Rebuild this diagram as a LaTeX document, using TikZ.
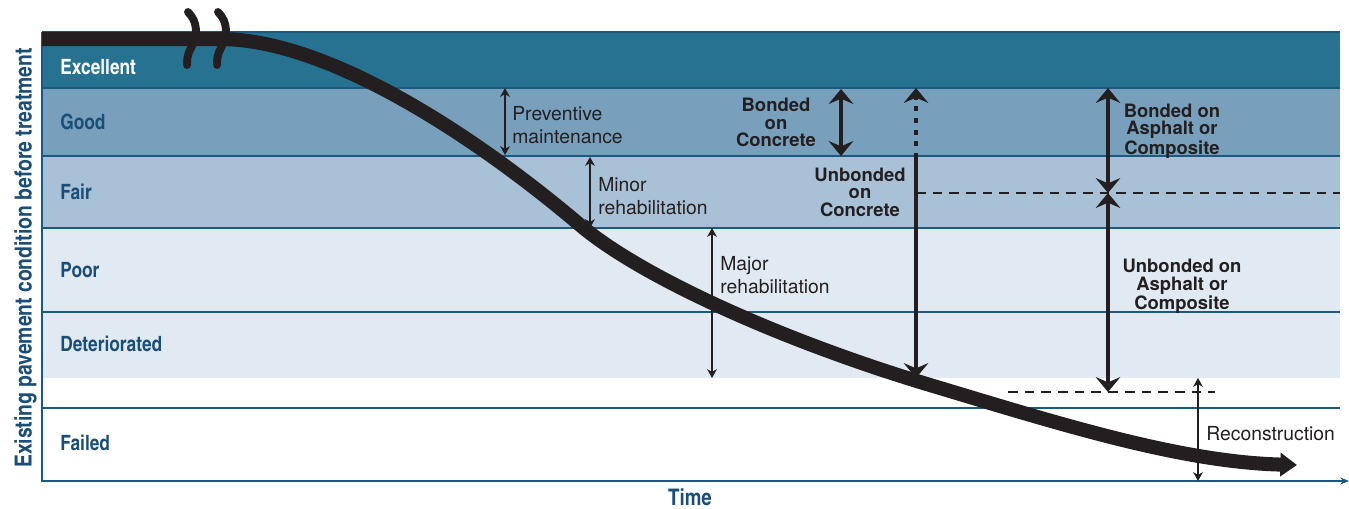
\documentclass[tikz,border=0pt]{standalone}
\usepackage{fontspec}
\setmainfont{TeX Gyre Heros}
\newfontfamily\condfont{texgyreheroscn}[Extension=.otf,UprightFont=*-regular,BoldFont=*-bold]
\usetikzlibrary{arrows.meta}

\definecolor{excband}{HTML}{277191}
\definecolor{goodband}{HTML}{78A0BD}
\definecolor{fairband}{HTML}{A9C1D6}
\definecolor{poorband}{HTML}{E1EAF2}
\definecolor{bandedge}{HTML}{1A5A80}
\definecolor{lvlblue}{HTML}{1B4E76}
\definecolor{ink}{HTML}{231F20}

\tikzset{
  bandline/.style={draw=bandedge,line width=0.6pt},
  level/.style={anchor=base west,inner sep=0pt,text=lvlblue,font=\condfont\bfseries\fontsize{12}{14}\selectfont},
  note/.style={anchor=west,inner sep=0pt,align=left,text=ink,font=\fontsize{11}{13}\selectfont},
  treat/.style={inner sep=0pt,align=center,text=ink,font=\bfseries\fontsize{10.5}{10}\selectfont},
  thinarr/.style={<->,>={Stealth[length=5pt,width=5.5pt,inset=1.5pt]},line width=0.85pt,draw=ink},
  thickarr/.style={>={Stealth[length=8.5pt,width=14pt,inset=3pt]},line width=2.8pt,draw=ink},
  guide/.style={dash pattern=on 5.5pt off 4pt,line width=0.9pt,draw=ink},
}

\begin{document}
\begin{tikzpicture}[x=0.02cm,y=-0.02cm]
\useasboundingbox (0,0) rectangle (1349,508);

% condition bands
\fill[excband] (42,32) rectangle (1340,88);
\fill[goodband] (42,88) rectangle (1340,156);
\fill[fairband] (42,156) rectangle (1340,228);
\fill[poorband] (42,228) rectangle (1340,378);
\foreach \y in {32,88,156,228,312,408}
  \draw[bandline] (42,\y) -- (1340,\y);

\node[level,text=white] (excellent) at (60,74) {Excellent};
\node[level] (good) at (60,129) {Good};
\node[level] (fair) at (60,199) {Fair};
\node[level] (poor) at (60,277) {Poor};
\node[level] (deter) at (60,351) {Deteriorated};
\node[level] (failed) at (60,450) {Failed};

% axes
\coordinate (ytop) at (42,32);
\coordinate (origin) at (42,481);
\coordinate (xend) at (1349,481);
\draw[draw=bandedge,line width=0.9pt,-{Stealth[length=5pt,width=4pt]}] (ytop) -- (origin) -- (xend);
\node[rotate=90,anchor=base,inner sep=0pt,text=lvlblue,font=\condfont\bfseries\fontsize{13.4}{15}\selectfont] (ylabel) at (31.5,258) {Existing pavement condition before treatment};
\node[anchor=base,inner sep=0pt,text=lvlblue,font=\condfont\bfseries\fontsize{13}{15}\selectfont] (xlabel) at (690,505) {Time};

% deterioration curve
\draw[ink,line width=8pt,-{Triangle[length=9.5pt,width=13pt]}] (42,39) -- (220,39)
  .. controls (330,39) and (480,140) .. (580,225)
  .. controls (640,276) and (780,340) .. (930,385)
  .. controls (1060,424) and (1180,462) .. (1297,465);
\foreach \dx in {0,30}
  \draw[ink,line width=4.5pt,line cap=round] (188+\dx,12) .. controls (198+\dx,22) and (198+\dx,35) .. (191+\dx,48) .. controls (187+\dx,55) and (187+\dx,60) .. (187+\dx,65);

% treatment windows
\coordinate (pm-up) at (505,88);   \coordinate (pm-dn) at (505,155);
\coordinate (mi-up) at (590,157);  \coordinate (mi-dn) at (590,228);
\coordinate (ma-up) at (712,228);  \coordinate (ma-dn) at (712,378);
\coordinate (bc-up) at (841,89);   \coordinate (bc-dn) at (841,156);
\coordinate (uc-up) at (916,88);   \coordinate (uc-mid) at (916,156);  \coordinate (uc-dn) at (916,378);
\coordinate (ba-up) at (1108,88);  \coordinate (ba-dn) at (1108,193);
\coordinate (ua-dn) at (1108,392);
\coordinate (re-up) at (1198,378); \coordinate (re-dn) at (1198,481);
\coordinate (fair-cut) at (1340,193);
\coordinate (fail-l) at (1008,392); \coordinate (fail-r) at (1215,392);

\draw[guide] (uc-mid |- fair-cut) -- (fair-cut);
\draw[guide] (fail-l) -- (fail-r);

\draw[thinarr] (pm-up) -- (pm-dn);
\draw[thinarr] (mi-up) -- (mi-dn);
\draw[thinarr] (ma-up) -- (ma-dn);
\draw[thinarr] (re-up) -- (re-dn);

\draw[thickarr,<->] (bc-up) -- (bc-dn);
\draw[thickarr,->,dash pattern=on 2.8pt off 3.8pt,dash phase=1pt] (uc-mid) -- (uc-up);
\draw[thickarr,->] (uc-mid) -- (uc-dn);
\draw[thickarr,<->] (ba-up) -- (ba-dn);
\draw[thickarr,<->] (ba-dn) -- (ua-dn);

\node[note] (prev) at (512,125) {Preventive\\maintenance};
\node[note] (minor) at (598,196) {Minor\\rehabilitation};
\node[note] (major) at (720,275) {Major\\rehabilitation};
\node[note] (recon) at (1206,434) {Reconstruction};

\node[treat] (bonconc) at (776,122.5) {Bonded\\on\\Concrete};
\node[treat] (unbconc) at (860,192) {Unbonded\\on\\Concrete};
\node[treat] (bonasph) at (1172,131) {Bonded on\\Asphalt or\\Composite};
\node[treat] (unbasph) at (1182,286.5) {Unbonded on\\Asphalt or\\Composite};
\end{tikzpicture}
\end{document}
